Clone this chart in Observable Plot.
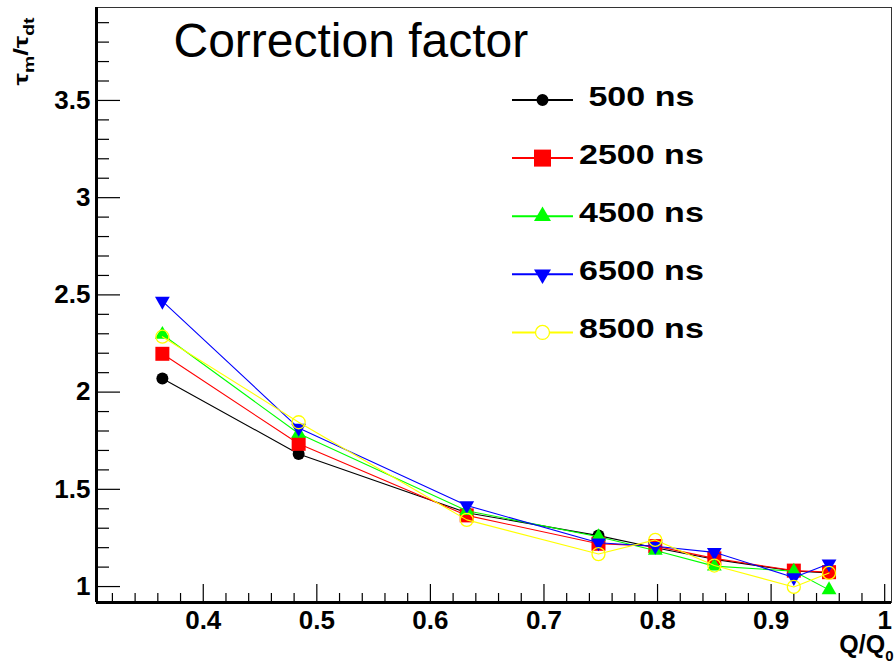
<!DOCTYPE html>
<html>
<head>
<meta charset="utf-8">
<script src="https://cdn.jsdelivr.net/npm/d3@7"></script>
<script src="https://cdn.jsdelivr.net/npm/@observablehq/plot@0.6"></script>
<style>
  body { margin: 0; background: #fff; }
  #chart { width: 895px; height: 664px; }
</style>
</head>
<body>
<div id="chart"></div>
<script>
// ---------- data ----------
const xValues = [0.364, 0.484, 0.632, 0.748, 0.798, 0.850, 0.920, 0.951];
const seriesNames = ["500 ns", "2500 ns", "4500 ns", "6500 ns", "8500 ns"];
const legendLabels = [" 500 ns", "2500 ns", "4500 ns", "6500 ns", "8500 ns"];
const values500  = [2.070, 1.682, 1.380, 1.262, 1.200, 1.140, 1.080, 1.070];
const values2500 = [2.197, 1.734, 1.366, 1.220, 1.208, 1.145, 1.082, 1.074];
const values4500 = [2.296, 1.787, 1.390, 1.256, 1.185, 1.105, 1.079, 0.983];
const values6500 = [2.468, 1.815, 1.417, 1.225, 1.207, 1.176, 1.047, 1.117];
const values8500 = [2.285, 1.845, 1.343, 1.167, 1.240, 1.108, 0.998, 1.070];
const seriesValues = [values500, values2500, values4500, values6500, values8500];
const seriesColors = ["#000000", "#ff0000", "#00ff00", "#0000ff", "#ffff00"];
const xTickValues = [0.4, 0.5, 0.6, 0.7, 0.8, 0.9, 1];
const yTickValues = [1, 1.5, 2, 2.5, 3, 3.5];
const xMinorTicks = d3.range(16, 51).filter(i => i % 5 !== 0).map(i => i * 0.02);
const yMinorTicks = d3.range(10, 40).filter(i => i % 5 !== 0).map(i => i / 10);
const xDomain = [0.306, 1.006];
const yDomain = [0.918, 3.978];
const chartTitle = "Correction factor";
const xTitle = "Q/Q0";
const yTitle = "τm/τdt";

// ---------- styles ----------
const FONT = "'Liberation Sans', Arial, Helvetica, sans-serif";
const sqrt3 = Math.sqrt(3);
const triangleDown = {
  draw(ctx, size) {
    const y = -Math.sqrt(size / (sqrt3 * 3));
    ctx.moveTo(0, -y * 2);
    ctx.lineTo(-sqrt3 * y, y);
    ctx.lineTo(sqrt3 * y, y);
    ctx.closePath();
  }
};
const markerStyles = [
  {symbol: "circle", r: 6, filled: true},
  {symbol: "square", r: 7.9, filled: true},
  {symbol: "triangle", r: 5.5, filled: true},
  {symbol: triangleDown, r: 5.5, filled: true},
  {symbol: "circle", r: 6.5, filled: false}
];
const legendMarkerSize = [113, 289, 125, 125, 154];

const rows = seriesNames.flatMap((s, i) =>
  xValues.map((x, j) => ({series: s, x, y: seriesValues[i][j]})));

const seriesMarks = seriesNames.flatMap((s, i) => {
  const d = rows.filter(r => r.series === s);
  const m = markerStyles[i];
  return [
    Plot.line(d, {x: "x", y: "y", stroke: seriesColors[i], strokeWidth: 1.1}),
    Plot.dot(d, {
      x: "x", y: "y", symbol: m.symbol, r: m.r,
      fill: m.filled ? seriesColors[i] : "none",
      stroke: m.filled ? "none" : seriesColors[i],
      strokeWidth: m.filled ? 0 : 1.3
    })
  ];
});

const chart = Plot.plot({
  width: 895,
  height: 664,
  marginLeft: 96,
  marginRight: 4,
  marginTop: 7,
  marginBottom: 62,
  style: {fontFamily: FONT, background: "#fff", color: "#000"},
  x: {domain: xDomain},
  y: {domain: yDomain},
  marks: [
    Plot.frame({stroke: "#333", strokeWidth: 1}),
    // minor ticks (inward)
    Plot.axisX(xMinorTicks, {anchor: "bottom", tickSize: -9, fill: "none", label: null, stroke: "#000", strokeWidth: 1.2}),
    Plot.axisY(yMinorTicks, {anchor: "left", tickSize: -13, fill: "none", label: null, stroke: "#000", strokeWidth: 1.2}),
    // major ticks (inward)
    Plot.axisX(xTickValues, {anchor: "bottom", tickSize: -18, fill: "none", label: null, stroke: "#000", strokeWidth: 1.2}),
    Plot.axisY(yTickValues, {anchor: "left", tickSize: -24, fill: "none", label: null, stroke: "#000", strokeWidth: 1.2}),
    // tick labels
    Plot.axisX(xTickValues, {anchor: "bottom", tickSize: 0, tickPadding: 8, label: null,
      tickFormat: d3.format("~g"), fontSize: 26, fontWeight: "bold", fill: "#000"}),
    Plot.axisY(yTickValues, {anchor: "left", tickSize: 0, tickPadding: 6, label: null,
      tickFormat: d3.format("~g"), fontSize: 26, fontWeight: "bold", fill: "#000"}),
    // thick axis lines
    Plot.ruleX([xDomain[0]], {stroke: "#000", strokeWidth: 3}),
    Plot.ruleY([yDomain[0]], {stroke: "#000", strokeWidth: 3}),
    ...seriesMarks,
    // titles
    Plot.text([chartTitle], {text: d => d, frameAnchor: "top-left", dx: 77, dy: 34,
      textAnchor: "start", lineAnchor: "middle", fontSize: 48, fill: "#000"}),
    Plot.text([xTitle], {text: d => d, frameAnchor: "bottom-right", dx: 2, dy: 42,
      textAnchor: "end", lineAnchor: "middle", fontSize: 25, fontWeight: "bold", fill: "#000"}),
    Plot.text([yTitle], {text: d => d, frameAnchor: "top-left", dx: -75, dy: 44, rotate: -90,
      textAnchor: "middle", lineAnchor: "middle", fontSize: 20, fontWeight: "bold", fill: "#000"})
  ]
});

document.getElementById("chart").appendChild(chart);

// ---------- subscripts in axis titles ----------
function subscriptify(str, parts, shift, subSize, length) {
  const el = Array.from(chart.querySelectorAll("text")).find(t => t.textContent === str);
  if (!el) return;
  el.textContent = "";
  let down = false;
  for (const [s, sub] of parts) {
    const ts = document.createElementNS("http://www.w3.org/2000/svg", "tspan");
    ts.textContent = s;
    if (sub && !down) { ts.setAttribute("dy", shift); down = true; }
    else if (!sub && down) { ts.setAttribute("dy", -shift); down = false; }
    if (sub) ts.setAttribute("font-size", subSize);
    el.appendChild(ts);
  }
  if (length) {
    el.setAttribute("textLength", length);
    el.setAttribute("lengthAdjust", "spacingAndGlyphs");
  }
}
subscriptify(xTitle, [["Q/Q", false], ["0", true]], 8, 15);
subscriptify(yTitle, [["τ", false], ["m", true], ["/τ", false], ["dt", true]], 6, 14, 68);

// ---------- legend (inside the frame, no box) ----------
const svg = d3.select(chart);
const lg = svg.append("g").attr("class", "legend").attr("text-anchor", "start");
seriesNames.forEach((s, i) => {
  const y0 = 100 + i * 58.1;
  const g = lg.append("g");
  g.append("line").attr("x1", 512).attr("x2", 573).attr("y1", y0).attr("y2", y0)
    .attr("stroke", seriesColors[i]).attr("stroke-width", 2);
  const m = markerStyles[i];
  const symType = m.symbol === "circle" ? d3.symbolCircle
    : m.symbol === "square" ? d3.symbolSquare
    : m.symbol === "triangle" ? d3.symbolTriangle : m.symbol;
  g.append("path")
    .attr("d", d3.symbol(symType, legendMarkerSize[i])())
    .attr("transform", `translate(542.5,${y0})`)
    .attr("fill", m.filled ? seriesColors[i] : "#fff")
    .attr("stroke", m.filled ? "none" : seriesColors[i])
    .attr("stroke-width", m.filled ? 0 : 1.3);
  g.append("text")
    .attr("transform", `translate(579,${y0 + 5.7}) scale(1.26,1)`)
    .attr("text-anchor", "start")
    .attr("font-family", FONT)
    .attr("font-size", 27)
    .attr("font-weight", "bold")
    .attr("fill", "#000")
    .style("white-space", "pre")
    .attr("xml:space", "preserve")
    .text(legendLabels[i]);
});
</script>
</body>
</html>
